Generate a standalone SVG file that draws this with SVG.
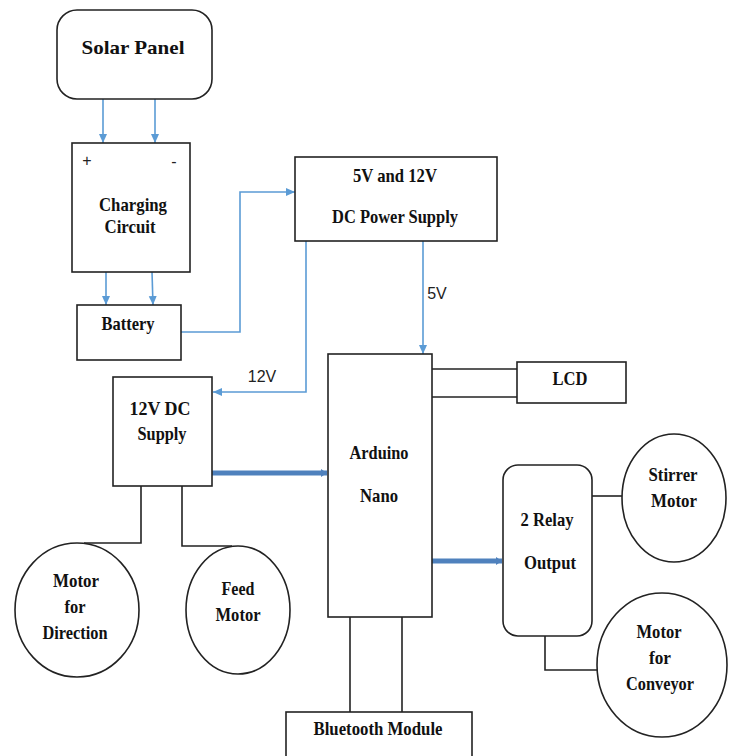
<svg xmlns="http://www.w3.org/2000/svg" width="732" height="756" viewBox="0 0 732 756">
<style>
.box{fill:#fff;stroke:#222;stroke-width:1.6}
.t{font-family:"Liberation Serif","Times New Roman",serif;font-weight:bold;font-size:19px;fill:#111;text-anchor:middle}
.s{font-family:"Liberation Sans",Arial,sans-serif;font-size:16px;fill:#222;text-anchor:middle}
.blue{fill:none;stroke:#5b9bd5;stroke-width:1.6}
.thick{fill:none;stroke:#4f81bd;stroke-width:5}
.wire{fill:none;stroke:#222;stroke-width:1.6}
</style>
<defs>
<marker id="ah" markerUnits="userSpaceOnUse" markerWidth="10" markerHeight="10" refX="9" refY="5" orient="auto">
<path d="M0,1 L9,5 L0,9 Z" fill="#5b9bd5"/>
</marker>
<marker id="ahT" markerUnits="userSpaceOnUse" markerWidth="8" markerHeight="10" refX="6" refY="5" orient="auto">
<path d="M0,1 L6,5 L0,9 Z" fill="#4f81bd"/>
</marker>
</defs>
<rect width="732" height="756" fill="#fff"/>
<g id="connectors">
<line class="blue" x1="103" y1="99" x2="103" y2="143" marker-end="url(#ah)"/>
<line class="blue" x1="155" y1="99" x2="155" y2="143" marker-end="url(#ah)"/>
<line class="blue" x1="106" y1="272" x2="106" y2="305" marker-end="url(#ah)"/>
<line class="blue" x1="152" y1="272" x2="153" y2="305" marker-end="url(#ah)"/>
<polyline class="blue" points="181,332 240,332 240,192 295,192" marker-end="url(#ah)"/>
<line class="blue" x1="423" y1="241" x2="423" y2="354" marker-end="url(#ah)"/>
<polyline class="blue" points="306,241 306,392 213,392" marker-end="url(#ah)"/>
<line class="thick" x1="212" y1="473" x2="327" y2="473" marker-end="url(#ahT)"/>
<line class="thick" x1="432" y1="561" x2="502" y2="561" marker-end="url(#ahT)"/>
<polyline class="wire" points="141,486 141,543 84,543"/>
<polyline class="wire" points="182,486 182,546 232,546"/>
<line class="wire" x1="432" y1="369" x2="517" y2="369"/>
<line class="wire" x1="432" y1="397" x2="517" y2="397"/>
<line class="wire" x1="592" y1="496" x2="622" y2="496"/>
<polyline class="wire" points="545,636 545,670 597,670"/>
<line class="wire" x1="350" y1="617" x2="350" y2="712"/>
<line class="wire" x1="402" y1="617" x2="402" y2="712"/>
<text class="s" x="437" y="299">5V</text>
<text class="s" x="262" y="382">12V</text>
</g>
<g id="solar-panel">
<rect class="box" x="57" y="10" width="155" height="89" rx="20"/>
<text class="t" x="133" y="54" font-size="25" textLength="103" lengthAdjust="spacingAndGlyphs">Solar Panel</text>
</g>
<g id="charging-circuit">
<rect class="box" x="72" y="143" width="118" height="129"/>
<text class="s" x="87" y="166">+</text>
<text class="s" x="174" y="167">-</text>
<text class="t" x="133" y="211" textLength="68" lengthAdjust="spacingAndGlyphs">Charging</text>
<text class="t" x="130" y="233" textLength="51" lengthAdjust="spacingAndGlyphs">Circuit</text>
</g>
<g id="battery">
<rect class="box" x="77" y="305" width="104" height="55"/>
<text class="t" x="128" y="330" textLength="53" lengthAdjust="spacingAndGlyphs">Battery</text>
</g>
<g id="power-supply">
<rect class="box" x="295" y="157" width="202" height="84"/>
<text class="t" x="395" y="182" textLength="84" lengthAdjust="spacingAndGlyphs">5V and 12V</text>
<text class="t" x="395" y="223" textLength="126" lengthAdjust="spacingAndGlyphs">DC Power Supply</text>
</g>
<g id="dc-supply-12v">
<rect class="box" x="113" y="377" width="99" height="109"/>
<text class="t" x="160" y="415" textLength="61" lengthAdjust="spacingAndGlyphs">12V DC</text>
<text class="t" x="162" y="440" textLength="49" lengthAdjust="spacingAndGlyphs">Supply</text>
</g>
<g id="motor-direction">
<ellipse class="box" cx="77" cy="610" rx="62" ry="67"/>
<text class="t" x="76" y="587" textLength="46" lengthAdjust="spacingAndGlyphs">Motor</text>
<text class="t" x="75" y="613" textLength="21" lengthAdjust="spacingAndGlyphs">for</text>
<text class="t" x="75" y="639" textLength="65" lengthAdjust="spacingAndGlyphs">Direction</text>
</g>
<g id="feed-motor">
<ellipse class="box" cx="238" cy="610" rx="52" ry="64"/>
<text class="t" x="238" y="595" textLength="33" lengthAdjust="spacingAndGlyphs">Feed</text>
<text class="t" x="238" y="621" textLength="45" lengthAdjust="spacingAndGlyphs">Motor</text>
</g>
<g id="arduino-nano">
<rect class="box" x="328" y="354" width="104" height="263"/>
<text class="t" x="379" y="459" textLength="59" lengthAdjust="spacingAndGlyphs">Arduino</text>
<text class="t" x="379" y="502" textLength="38" lengthAdjust="spacingAndGlyphs">Nano</text>
</g>
<g id="lcd">
<rect class="box" x="517" y="362" width="109" height="41"/>
<text class="t" x="570" y="385" textLength="35" lengthAdjust="spacingAndGlyphs">LCD</text>
</g>
<g id="relay-output">
<rect class="box" x="503" y="465" width="89" height="171" rx="15"/>
<text class="t" x="547" y="526" textLength="53" lengthAdjust="spacingAndGlyphs">2 Relay</text>
<text class="t" x="550" y="569" textLength="52" lengthAdjust="spacingAndGlyphs">Output</text>
</g>
<g id="stirrer-motor">
<ellipse class="box" cx="674" cy="498" rx="52" ry="64"/>
<text class="t" x="673" y="481" textLength="49" lengthAdjust="spacingAndGlyphs">Stirrer</text>
<text class="t" x="674" y="507" textLength="46" lengthAdjust="spacingAndGlyphs">Motor</text>
</g>
<g id="motor-conveyor">
<ellipse class="box" cx="662" cy="665" rx="65" ry="72"/>
<text class="t" x="659" y="638" textLength="45" lengthAdjust="spacingAndGlyphs">Motor</text>
<text class="t" x="660" y="664" textLength="22" lengthAdjust="spacingAndGlyphs">for</text>
<text class="t" x="660" y="690" textLength="68" lengthAdjust="spacingAndGlyphs">Conveyor</text>
</g>
<g id="bluetooth-module">
<rect class="box" x="286" y="712" width="186" height="50"/>
<text class="t" x="378" y="735" textLength="129" lengthAdjust="spacingAndGlyphs">Bluetooth Module</text>
</g>
</svg>
